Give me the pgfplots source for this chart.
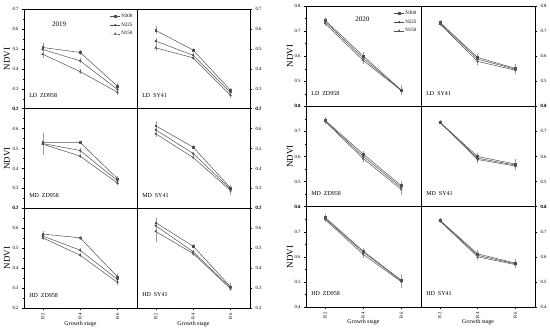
\documentclass[border=0pt]{standalone}
\usepackage{fontspec}
\setmainfont{Liberation Serif}
\usepackage{pgfplots}
\usepackage{pgfplotstable}
\pgfplotsset{compat=1.18}
\definecolor{lc}{HTML}{505050}
\definecolor{eb}{HTML}{9A9A9A}

% columns: x, N300 (a), err, N225 (b), err, N150 (c), err
\pgfplotstableread{
x a ea b eb c ec
1 0.507 0.015 0.497 0.012 0.473 0.015
2 0.482 0.008 0.440 0.008 0.386 0.006
3 0.312 0.010 0.296 0.008 0.282 0.008
}\tAa
\pgfplotstableread{
x a ea b eb c ec
1 0.593 0.015 0.539 0.012 0.505 0.012
2 0.494 0.006 0.468 0.006 0.455 0.006
3 0.292 0.006 0.281 0.006 0.267 0.008
}\tAb
\pgfplotstableread{
x a ea b eb c ec
1 0.531 0.015 0.525 0.050 0.522 0.020
2 0.531 0.004 0.490 0.006 0.462 0.005
3 0.348 0.008 0.338 0.008 0.326 0.006
}\tBa
\pgfplotstableread{
x a ea b eb c ec
1 0.614 0.020 0.594 0.010 0.574 0.010
2 0.507 0.005 0.475 0.005 0.455 0.005
3 0.302 0.010 0.296 0.008 0.289 0.015
}\tBb
\pgfplotstableread{
x a ea b eb c ec
1 0.571 0.008 0.561 0.010 0.552 0.008
2 0.552 0.004 0.490 0.006 0.465 0.006
3 0.356 0.010 0.343 0.008 0.328 0.008
}\tCa
\pgfplotstableread{
x a ea b eb c ec
1 0.628 0.020 0.613 0.012 0.584 0.050
2 0.510 0.004 0.482 0.006 0.473 0.006
3 0.307 0.012 0.301 0.008 0.297 0.008
}\tCb
\pgfplotstableread{
x a ea b eb c ec
1 0.743 0.010 0.738 0.008 0.731 0.008
2 0.601 0.012 0.592 0.010 0.583 0.010
3 0.465 0.015 0.464 0.010 0.463 0.012
}\tDa
\pgfplotstableread{
x a ea b eb c ec
1 0.735 0.005 0.732 0.005 0.728 0.005
2 0.595 0.008 0.588 0.008 0.579 0.010
3 0.551 0.015 0.548 0.010 0.544 0.010
}\tDb
\pgfplotstableread{
x a ea b eb c ec
1 0.745 0.010 0.742 0.008 0.740 0.008
2 0.610 0.008 0.601 0.008 0.592 0.008
3 0.484 0.015 0.477 0.015 0.469 0.020
}\tEa
\pgfplotstableread{
x a ea b eb c ec
1 0.737 0.003 0.737 0.003 0.736 0.003
2 0.600 0.010 0.593 0.008 0.588 0.008
3 0.570 0.015 0.566 0.010 0.562 0.010
}\tEb
\pgfplotstableread{
x a ea b eb c ec
1 0.758 0.010 0.753 0.008 0.749 0.008
2 0.623 0.008 0.619 0.008 0.610 0.010
3 0.507 0.020 0.505 0.015 0.501 0.020
}\tFa
\pgfplotstableread{
x a ea b eb c ec
1 0.746 0.006 0.745 0.005 0.743 0.005
2 0.612 0.010 0.606 0.008 0.600 0.008
3 0.575 0.012 0.572 0.010 0.569 0.010
}\tFb

\pgfplotsset{
  base/.style={scale only axis, anchor=south west,
    xmin=0.5, xmax=3.52,
    tick align=outside, major tick length=2bp, minor tick length=1.2bp,
    axis line style={line width=0.7pt},
    every tick/.style={line width=0.4pt, black},
    tick label style={font=\fontsize{4.8}{5}\selectfont},
    /pgf/number format/assume math mode=true,
    yticklabel style={/pgf/number format/fixed, /pgf/number format/fixed zerofill, /pgf/number format/precision=1},
    xtick=\empty, minor x tick num=0},
  bottomrow/.style={xtick={1,2,3}, xticklabels={R2,R4,R6}, minor x tick num=1, xtick pos=bottom,
    xticklabel style={rotate=90, anchor=east},
    xlabel={Growth stage},
    xlabel style={at={(rel axis cs:0.5,0)}, anchor=center, yshift=-16bp, font=\fontsize{6}{7}\selectfont}},
  yA/.style={ymin=0.2, ymax=0.7, ytick={0.2,0.3,0.4,0.5,0.6,0.7}, minor y tick num=1, width=113bp, height=99.67bp},
  yB/.style={ymin=0.4, ymax=0.8, ytick={0.4,0.5,0.6,0.7,0.8}, minor y tick num=1, height=100.33bp},
  leftp/.style={ytick pos=left, ylabel={NDVI},
    ylabel style={at={(axis description cs:-0.150,0.5)}, anchor=center, font=\fontsize{9}{10}\selectfont}},
  rightp/.style={ytick pos=right, yticklabel pos=right},
  s1/.style={draw=lc, mark=square*, mark size=0.9bp, mark options={fill=lc, solid}, line width=0.5pt,
    error bars/.cd, y dir=both, y explicit, error bar style={color=eb, line width=0.3pt},
    error mark options={color=eb, mark size=1bp, line width=0.3pt}},
  s2/.style={draw=lc, mark=*, mark size=0.9bp, mark options={fill=lc, solid}, line width=0.5pt,
    error bars/.cd, y dir=both, y explicit, error bar style={color=eb, line width=0.3pt},
    error mark options={color=eb, mark size=1bp, line width=0.3pt}},
  s3/.style={draw=lc, mark=triangle*, mark size=1.0bp, mark options={fill=lc, solid}, line width=0.5pt,
    error bars/.cd, y dir=both, y explicit, error bar style={color=eb, line width=0.3pt},
    error mark options={color=eb, mark size=1bp, line width=0.3pt}},
  leg/.style={legend style={at={(rel axis cs:0.97,0.96)}, anchor=north east, draw=none, fill=none,
    font=\fontsize{5}{5.5}\selectfont, inner sep=0pt, row sep=1.8pt,
    nodes={inner sep=1pt}},
    legend image code/.code={\draw[##1, mark repeat=2, mark phase=2] plot coordinates {(0,0) (0.17cm,0) (0.34cm,0)};}},
}
\newcommand{\three}[1]{%
  \addplot[s1] table[x=x, y=a, y error=ea] {#1};
  \addplot[s2] table[x=x, y=b, y error=eb] {#1};
  \addplot[s3] table[x=x, y=c, y error=ec] {#1};}
\newcommand{\plab}[1]{\node[anchor=west, font=\fontsize{6}{7}\selectfont, inner sep=0pt] at (rel axis cs:0.045,0.13) {#1};}

\begin{document}
\begin{tikzpicture}
\useasboundingbox (0,0) rectangle (550bp,331bp);
% ---------------- 2019 ----------------
\begin{axis}[base, yA, leftp, leg, at={(24bp,222.33bp)}]
\three{\tAa}
\legend{N300,N225,N150}
\plab{LD\ \ ZD958}
\node[font=\fontsize{7}{8}\selectfont] at (rel axis cs:0.31,0.85) {2019};
\end{axis}
\begin{axis}[base, yA, rightp, at={(137bp,222.33bp)}]
\three{\tAb}
\plab{LD\ \ SY41}
\end{axis}
\begin{axis}[base, yA, leftp, at={(24bp,122.67bp)}]
\three{\tBa}
\plab{MD\ \ ZD958}
\end{axis}
\begin{axis}[base, yA, rightp, at={(137bp,122.67bp)}]
\three{\tBb}
\plab{MD\ \ SY41}
\end{axis}
\begin{axis}[base, yA, leftp, bottomrow, at={(24bp,23bp)}]
\three{\tCa}
\plab{HD\ \ ZD958}
\end{axis}
\begin{axis}[base, yA, rightp, bottomrow, at={(137bp,23bp)}]
\three{\tCb}
\plab{HD\ \ SY41}
\end{axis}
% ---------------- 2020 ----------------
\begin{axis}[base, yB, width=115bp, leftp, ylabel style={at={(axis description cs:-0.139,0.5)}}, leg, at={(306bp,224.67bp)}]
\three{\tDa}
\legend{N300,N225,N150}
\plab{LD\ \ ZD958}
\node[font=\fontsize{7}{8}\selectfont] at (rel axis cs:0.49,0.87) {2020};
\end{axis}
\begin{axis}[base, yB, width=114bp, rightp, at={(421bp,224.67bp)}]
\three{\tDb}
\plab{LD\ \ SY41}
\end{axis}
\begin{axis}[base, yB, width=115bp, leftp, ylabel style={at={(axis description cs:-0.139,0.5)}}, at={(306bp,124.33bp)}]
\three{\tEa}
\plab{MD\ \ ZD958}
\end{axis}
\begin{axis}[base, yB, width=114bp, rightp, at={(421bp,124.33bp)}]
\three{\tEb}
\plab{MD\ \ SY41}
\end{axis}
\begin{axis}[base, yB, width=115bp, leftp, ylabel style={at={(axis description cs:-0.139,0.5)}}, bottomrow, xlabel style={yshift=1bp}, at={(306bp,24bp)}]
\three{\tFa}
\plab{HD\ \ ZD958}
\end{axis}
\begin{axis}[base, yB, width=114bp, rightp, bottomrow, xlabel style={yshift=1bp}, at={(421bp,24bp)}]
\three{\tFb}
\plab{HD\ \ SY41}
\end{axis}
\end{tikzpicture}
\end{document}
